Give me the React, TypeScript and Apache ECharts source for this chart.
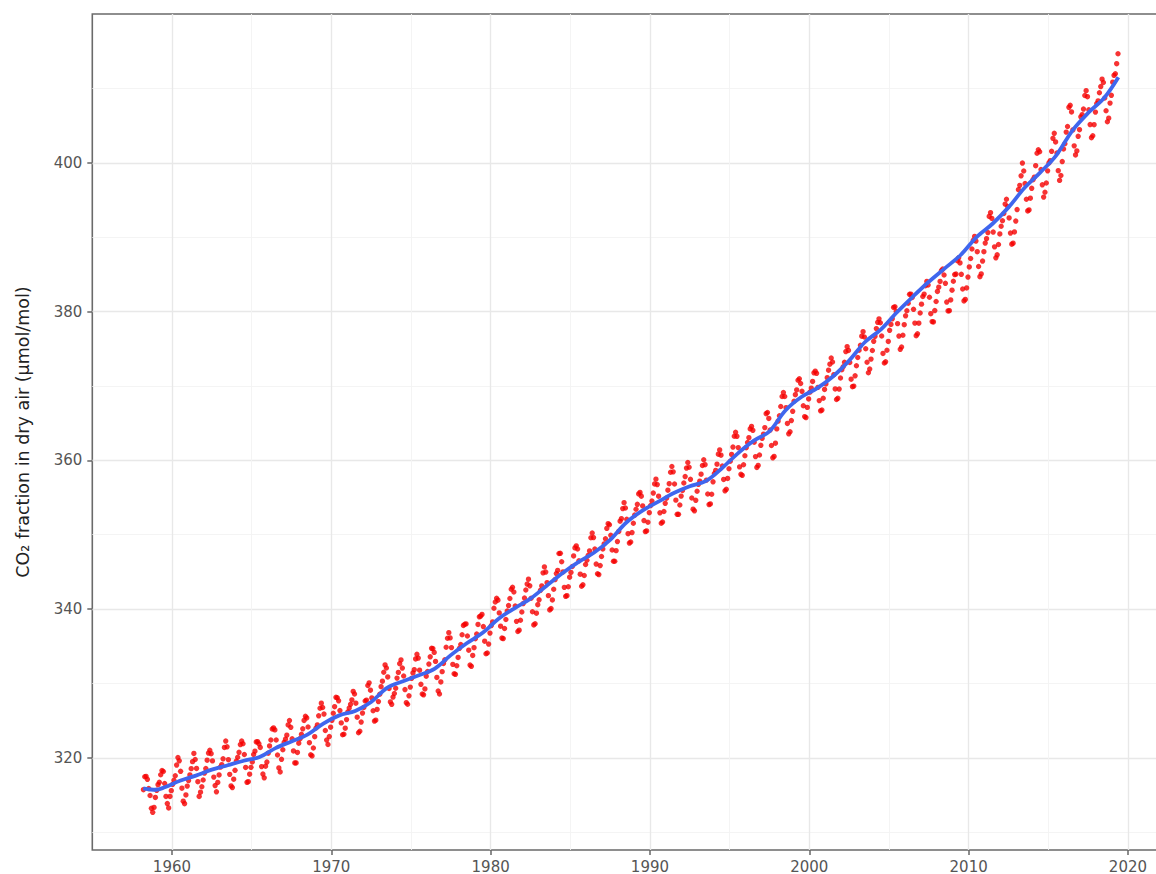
import React, { useEffect, useRef } from "react";
import * as echarts from "echarts";

// Monthly mean CO2 at Mauna Loa (µmol/mol), starting March 1958
const START_YEAR = 1958;
const START_MONTH = 3;

const co2_1958_1959 = [
  315.71, 317.45, 317.5, 317.1, 315.86, 314.93, 313.2, 312.66, 313.33, 314.67,
  315.62, 316.38, 316.71, 317.72, 318.29, 318.15, 316.54, 314.8, 313.84, 313.26, 314.8, 315.58,
];

const co2_1960s = [
  316.43, 316.97, 317.58, 319.02, 320.03, 319.59, 318.18, 315.91, 314.16, 313.83, 315.0, 316.19,
  316.93, 317.7, 318.54, 319.48, 320.58, 319.77, 318.57, 316.79, 314.8, 315.38, 316.1, 317.01,
  317.94, 318.56, 319.68, 320.63, 321.01, 320.55, 319.58, 317.4, 316.26, 315.42, 316.69, 317.69,
  318.74, 319.08, 319.86, 321.39, 322.25, 321.47, 319.74, 317.77, 316.21, 315.99, 317.12, 318.31,
  319.57, 320.07, 320.73, 321.77, 322.25, 321.89, 320.44, 318.7, 316.7, 316.79, 317.79, 318.71,
  319.44, 320.44, 320.89, 322.13, 322.16, 321.87, 321.39, 318.81, 317.81, 317.3, 318.87, 319.42,
  320.62, 321.59, 322.39, 323.87, 324.01, 323.75, 322.39, 320.37, 318.64, 318.1, 319.79, 321.08,
  322.07, 322.5, 323.04, 324.42, 325.0, 324.09, 322.55, 320.92, 319.31, 319.31, 320.72, 321.96,
  322.57, 323.15, 323.89, 325.02, 325.57, 325.36, 324.14, 322.03, 320.41, 320.25, 321.31, 322.84,
  324.0, 324.42, 325.64, 326.66, 327.34, 326.76, 325.88, 323.67, 322.38, 321.78, 322.85, 324.11,
];

const co2_1970s = [
  325.03, 325.99, 326.87, 328.13, 328.07, 327.66, 326.35, 324.69, 323.1, 323.16, 323.98, 325.13,
  326.17, 326.68, 327.18, 327.78, 328.92, 328.57, 327.34, 325.46, 323.36, 323.57, 324.8, 326.01,
  326.77, 327.63, 327.75, 329.72, 330.07, 329.09, 328.05, 326.32, 324.93, 325.06, 326.5, 327.55,
  328.54, 329.56, 330.3, 331.5, 332.48, 332.07, 330.87, 329.31, 327.51, 327.18, 328.16, 328.64,
  329.35, 330.71, 331.48, 332.65, 333.16, 332.06, 330.99, 329.17, 327.41, 327.2, 328.33, 329.5,
  330.68, 331.41, 331.85, 333.29, 333.91, 333.4, 331.78, 329.88, 328.57, 328.46, 329.26, 330.97,
  331.6, 332.6, 333.57, 334.72, 334.68, 334.17, 332.96, 330.8, 328.98, 328.57, 330.2, 331.58,
  332.67, 333.17, 334.86, 336.07, 336.82, 336.12, 334.81, 332.56, 331.3, 331.22, 332.37, 333.49,
  334.71, 335.23, 336.54, 337.79, 337.95, 338.0, 336.37, 334.47, 332.46, 332.29, 333.76, 334.8,
  336.0, 336.63, 337.93, 338.95, 339.05, 339.27, 337.64, 335.68, 333.99, 334.09, 335.29, 336.76,
];

const co2_1980s = [
  337.77, 338.26, 340.1, 340.94, 341.45, 341.19, 339.48, 337.69, 336.09, 336.03, 337.38, 338.59,
  339.73, 340.46, 341.41, 342.66, 342.93, 342.29, 340.41, 338.34, 336.98, 337.16, 338.49, 339.6,
  340.73, 341.47, 342.56, 343.35, 344.01, 343.12, 341.45, 339.63, 337.86, 338.02, 339.44, 340.58,
  341.24, 342.51, 343.11, 344.86, 345.66, 344.97, 343.54, 341.8, 339.88, 340.06, 341.22, 342.66,
  343.95, 344.76, 345.19, 347.46, 347.49, 346.36, 344.99, 342.91, 341.71, 341.8, 342.99, 344.28,
  344.92, 345.72, 347.14, 348.22, 348.49, 348.07, 346.48, 344.68, 343.06, 343.25, 344.51, 345.99,
  346.56, 347.21, 347.81, 349.58, 350.22, 349.61, 348.06, 346.04, 344.74, 344.63, 345.84, 347.06,
  348.07, 348.75, 349.44, 350.84, 351.48, 351.33, 349.91, 347.93, 346.42, 346.42, 347.85, 349.07,
  350.43, 351.81, 352.15, 353.5, 354.3, 353.58, 352.06, 350.13, 348.87, 349.01, 350.28, 351.53,
  352.63, 353.41, 354.08, 355.47, 355.68, 355.17, 353.86, 351.89, 350.41, 350.5, 351.67, 352.95,
];

const co2_1990s = [
  353.91, 354.52, 355.59, 356.82, 357.46, 356.73, 355.17, 352.93, 351.53, 351.7, 353.11, 354.21,
  354.9, 355.98, 356.85, 358.39, 359.16, 358.44, 356.81, 354.64, 352.73, 352.73, 353.99, 355.18,
  355.93, 356.94, 357.81, 358.95, 359.7, 359.06, 357.44, 354.93, 353.42, 353.2, 354.61, 355.83,
  356.77, 357.19, 358.13, 359.3, 360.07, 359.41, 357.33, 355.46, 354.04, 354.13, 355.43, 357.1,
  358.21, 358.63, 359.47, 360.82, 361.39, 360.68, 359.23, 357.42, 355.89, 356.09, 357.56, 358.86,
  359.87, 360.79, 361.77, 363.23, 363.77, 363.22, 361.7, 359.11, 358.11, 357.97, 359.4, 360.61,
  361.69, 362.38, 363.04, 364.22, 364.55, 364.02, 362.43, 360.49, 359.04, 359.31, 360.71, 362.01,
  362.95, 363.51, 364.39, 366.26, 366.42, 365.62, 364.06, 361.98, 360.33, 360.52, 362.3, 364.22,
  365.26, 365.98, 367.23, 368.57, 369.11, 368.57, 367.07, 364.95, 363.55, 363.83, 365.34, 366.58,
  367.93, 368.82, 369.46, 370.76, 370.96, 370.32, 369.27, 367.33, 365.87, 365.74, 367.11, 368.25,
];

const co2_2000s = [
  369.16, 369.7, 370.6, 371.75, 371.98, 371.69, 369.8, 368.02, 366.65, 366.75, 368.34, 369.52,
  370.26, 371.1, 372.11, 372.92, 373.75, 373.21, 371.51, 369.59, 368.17, 368.33, 369.57, 371.06,
  372.17, 372.57, 373.18, 374.61, 375.27, 374.77, 373.14, 370.9, 369.89, 369.97, 371.35, 372.71,
  373.82, 374.79, 375.45, 376.68, 377.29, 376.57, 374.99, 373.18, 371.77, 372.26, 373.6, 374.76,
  375.99, 376.66, 377.7, 378.54, 379.01, 378.49, 376.71, 374.36, 373.08, 373.24, 374.79, 375.98,
  377.47, 378.27, 379.01, 380.55, 380.64, 380.0, 378.37, 376.7, 374.91, 375.23, 376.81, 378.23,
  379.42, 380.1, 381.11, 382.31, 382.34, 381.89, 380.29, 378.44, 376.75, 377.0, 378.43, 379.8,
  380.99, 382.02, 382.34, 383.46, 384.05, 383.56, 381.92, 379.71, 378.64, 378.6, 380.13, 381.35,
  382.7, 383.27, 384.04, 385.51, 385.71, 384.91, 383.79, 381.27, 380.08, 380.11, 381.56, 382.87,
  384.07, 384.97, 385.03, 386.82, 387.22, 386.53, 385.0, 383.03, 381.42, 381.62, 383.17, 384.63,
];

const co2_2010s = [
  385.99, 387.13, 388.4, 389.57, 390.1, 389.47, 388.04, 386.05, 384.68, 385.05, 386.78, 388.04,
  389.2, 389.79, 390.61, 392.79, 393.29, 392.52, 390.68, 388.69, 387.22, 387.62, 389.01, 390.43,
  391.46, 392.2, 393.18, 394.44, 395.09, 394.09, 392.58, 390.55, 389.05, 389.19, 390.7, 392.16,
  393.71, 396.38, 396.96, 398.24, 399.96, 398.89, 397.2, 395.09, 393.52, 393.66, 395.24, 396.56,
  397.72, 398.06, 399.61, 401.28, 401.75, 401.48, 399.09, 397.03, 395.38, 396.03, 397.28, 398.91,
  399.98, 400.28, 401.54, 403.28, 403.96, 402.8, 401.31, 398.93, 397.63, 398.29, 400.16, 401.85,
  402.56, 404.12, 404.87, 407.45, 407.72, 406.83, 404.41, 402.27, 401.05, 401.59, 403.55, 404.45,
  406.17, 406.46, 407.22, 409.04, 409.69, 408.88, 407.12, 405.13, 403.37, 403.63, 405.12, 406.81,
  407.96, 408.32, 409.41, 410.24, 411.24, 410.79, 408.71, 406.99, 405.51, 406.0, 408.02, 409.07,
  410.83, 411.75, 411.97, 413.32, 414.66,
];

// Smoothed trend line
const trendYears = [
  1958.2, 1959.0, 1959.5, 1960.5, 1961.5, 1962.5, 1963.5, 1964.5, 1965.5, 1966.5, 1967.5,
  1968.5, 1969.5, 1970.5, 1971.5, 1972.5, 1973.5, 1974.5, 1975.5, 1976.5, 1977.5, 1978.5,
  1979.5, 1980.5, 1981.5, 1982.5, 1983.5, 1984.5, 1985.5, 1986.5, 1987.5, 1988.5, 1989.5,
  1990.5, 1991.5, 1992.5, 1993.5, 1994.5, 1995.5, 1996.5, 1997.5, 1998.5, 1999.5, 2000.5,
  2001.5, 2002.5, 2003.5, 2004.5, 2005.5, 2006.5, 2007.5, 2008.5, 2009.5, 2010.5, 2011.5,
  2012.5, 2013.5, 2014.5, 2015.5, 2016.5, 2017.5, 2018.5, 2019.4,
];
const trendValues = [
  315.9, 315.7, 316.0, 316.9, 317.6, 318.4, 319.0, 319.6, 320.1, 321.3, 322.2,
  323.1, 324.6, 325.7, 326.3, 327.5, 329.4, 330.3, 331.1, 332.0, 333.8, 335.4,
  336.8, 338.7, 340.1, 341.4, 343.1, 344.8, 346.3, 347.6, 349.3, 351.6, 353.2,
  354.4, 355.6, 356.5, 357.2, 358.9, 360.9, 362.6, 363.9, 366.7, 368.5, 369.7,
  371.3, 373.4, 375.9, 377.6, 379.9, 382.0, 384.0, 385.8, 387.6, 390.0, 391.8,
  394.0, 396.6, 398.7, 401.0, 404.3, 406.7, 408.7, 411.5,
];

const xMajorTicks = [1960, 1970, 1980, 1990, 2000, 2010, 2020];
const xMinorTicks = [1965, 1975, 1985, 1995, 2005, 2015];
const yMajorTicks = [320, 340, 360, 380, 400];
const yMinorTicks = [310, 330, 350, 370, 390, 410];

const X_MIN = 1955;
const X_MAX = 2022.5;
const Y_MIN = 307.6;
const Y_MAX = 420;

const FONT = "DejaVu Sans";

export default function App() {
  const ref = useRef<HTMLDivElement>(null);

  useEffect(() => {
    if (!ref.current) return;
    const chart = echarts.init(ref.current, undefined, { renderer: "svg" });

    const allMonthly = [
      ...co2_1958_1959,
      ...co2_1960s,
      ...co2_1970s,
      ...co2_1980s,
      ...co2_1990s,
      ...co2_2000s,
      ...co2_2010s,
    ];
    const monthly = allMonthly.map((v, i) => {
      const m = START_MONTH - 1 + i;
      return [START_YEAR + (m + 0.5) / 12, v];
    });
    const trend = trendYears.map((t, i) => [t, trendValues[i]]);

    const tickStyle = { color: "#666", width: 1.5 };
    const labelStyle = { fontFamily: FONT, fontSize: 15, color: "#555" };

    const option: any = {
      animation: false,
      backgroundColor: "#ffffff",
      grid: {
        left: 92.3,
        top: 14,
        width: 1075.5,
        height: 838.7,
        show: true,
        borderColor: "#6a6a6a",
        borderWidth: 1.6,
        backgroundColor: "transparent",
      },
      xAxis: [
        {
          type: "value",
          min: X_MIN,
          max: X_MAX,
          position: "bottom",
          axisLine: { show: false },
          axisTick: { show: true, customValues: xMajorTicks, length: 5, lineStyle: tickStyle },
          axisLabel: {
            show: true,
            customValues: xMajorTicks,
            margin: 9,
            ...labelStyle,
            formatter: (v: number) => String(Math.round(v)),
          },
          splitLine: { show: true, lineStyle: { color: "#e8e8e8", width: 1.4 } },
        },
        {
          type: "value",
          min: X_MIN,
          max: X_MAX,
          position: "bottom",
          gridIndex: 0,
          axisLine: { show: false },
          axisTick: { show: false, customValues: xMinorTicks },
          axisLabel: { show: false, customValues: xMinorTicks },
          splitLine: { show: true, lineStyle: { color: "#f3f3f3", width: 0.9 } },
        },
      ],
      yAxis: [
        {
          type: "value",
          min: Y_MIN,
          max: Y_MAX,
          position: "left",
          name: "CO\u2082 fraction in dry air (\u03bcmol/mol)",
          nameLocation: "middle",
          nameGap: 60,
          nameTextStyle: { fontFamily: FONT, fontSize: 17.5, color: "#222" },
          axisLine: { show: false },
          axisTick: { show: true, customValues: yMajorTicks, length: 5, lineStyle: tickStyle },
          axisLabel: {
            show: true,
            customValues: yMajorTicks,
            margin: 10,
            ...labelStyle,
            formatter: (v: number) => String(Math.round(v)),
          },
          splitLine: { show: true, lineStyle: { color: "#e8e8e8", width: 1.4 } },
        },
        {
          type: "value",
          min: Y_MIN,
          max: Y_MAX,
          position: "left",
          gridIndex: 0,
          axisLine: { show: false },
          axisTick: { show: false, customValues: yMinorTicks },
          axisLabel: { show: false, customValues: yMinorTicks },
          splitLine: { show: true, lineStyle: { color: "#f3f3f3", width: 0.9 } },
        },
      ],
      series: [
        {
          type: "scatter",
          xAxisIndex: 0,
          yAxisIndex: 0,
          data: monthly,
          symbol: "circle",
          symbolSize: 5.4,
          itemStyle: { color: "#f50000" },
          silent: true,
          z: 3,
        },
        {
          type: "line",
          xAxisIndex: 0,
          yAxisIndex: 0,
          data: trend,
          smooth: 0.35,
          symbol: "none",
          showSymbol: false,
          lineStyle: { color: "#3f66ee", width: 3.8 },
          silent: true,
          z: 4,
        },
      ],
    };

    chart.setOption(option);
    return () => chart.dispose();
  }, []);

  return (
    <div
      style={{
        position: "absolute",
        left: 0,
        top: 0,
        width: 1156,
        height: 874,
        overflow: "hidden",
        background: "#fff",
      }}
    >
      <div ref={ref} style={{ width: 1200, height: 874 }} />
    </div>
  );
}
